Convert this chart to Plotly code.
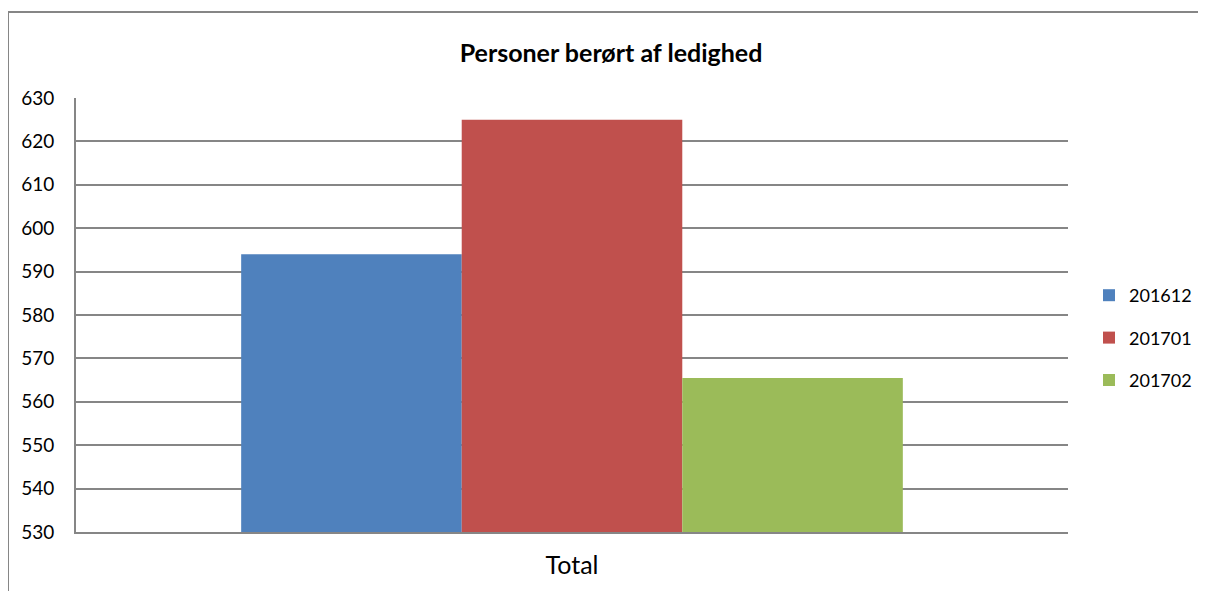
import plotly.graph_objects as go

categories = ["Total"]
series_names = ["201612", "201701", "201702"]
series_values = [[594], [625], [565.5]]
colors = ["#4F81BD", "#C0504D", "#9BBB59"]
y_ticks = [530, 540, 550, 560, 570, 580, 590, 600, 610, 620, 630]

# page body has an 8px margin, so the figure is sized to fit the window
W, H = 1198, 583
L, R, T, B = 68, 138, 90, 59
pw, ph = W - L - R, H - T - B

fig = go.Figure()
for i, (name, vals) in enumerate(zip(series_names, series_values)):
    fig.add_trace(go.Bar(
        x=categories, y=vals, name=name,
        marker=dict(color=colors[i], line=dict(width=0)),
        legendgroup=name,
    ))

font_family = "Lato, 'Open Sans', sans-serif"

fig.update_layout(
    width=W, height=H,
    margin=dict(l=L, r=R, t=T, b=B, pad=0, autoexpand=False),
    paper_bgcolor="white", plot_bgcolor="white",
    barmode="group", bargap=0.333, bargroupgap=0,
    font=dict(family=font_family, size=18, color="#000000"),
    title=dict(text="<b>Personer berørt af ledighed</b>",
               x=603 / W, xanchor="center", y=1 - 45 / H, yanchor="middle",
               font=dict(size=25, family=font_family, color="#000000")),
    showlegend=True,
    legend=dict(x=(1081 - L) / pw, xanchor="left", y=(H - B - 269) / ph, yanchor="top",
                font=dict(size=18, family=font_family), tracegroupgap=16,
                itemwidth=30, bgcolor="rgba(0,0,0,0)"),
    xaxis=dict(showgrid=False, showline=True, linecolor="#868686", linewidth=2,
               ticks="", tickfont=dict(size=25), ticklabelstandoff=10),
    yaxis=dict(range=[530, 630], tickvals=y_ticks, showgrid=True,
               gridcolor="#868686", gridwidth=2, showline=True, linecolor="#868686",
               linewidth=2, ticks="", tickfont=dict(size=19), zeroline=False,
               ticklabelstandoff=16),
)

bx = (0 - L) / pw
by = (H - B - 4) / ph
fig.add_shape(type="line", xref="paper", yref="paper",
              x0=bx, x1=bx, y0=by, y1=-(B + 5) / ph,
              line=dict(color="#868686", width=2))
fig.add_shape(type="line", xref="paper", yref="paper",
              x0=bx, x1=(W + 5 - L) / pw, y0=by, y1=by,
              line=dict(color="#868686", width=2))

fig.write_html("out.html")
